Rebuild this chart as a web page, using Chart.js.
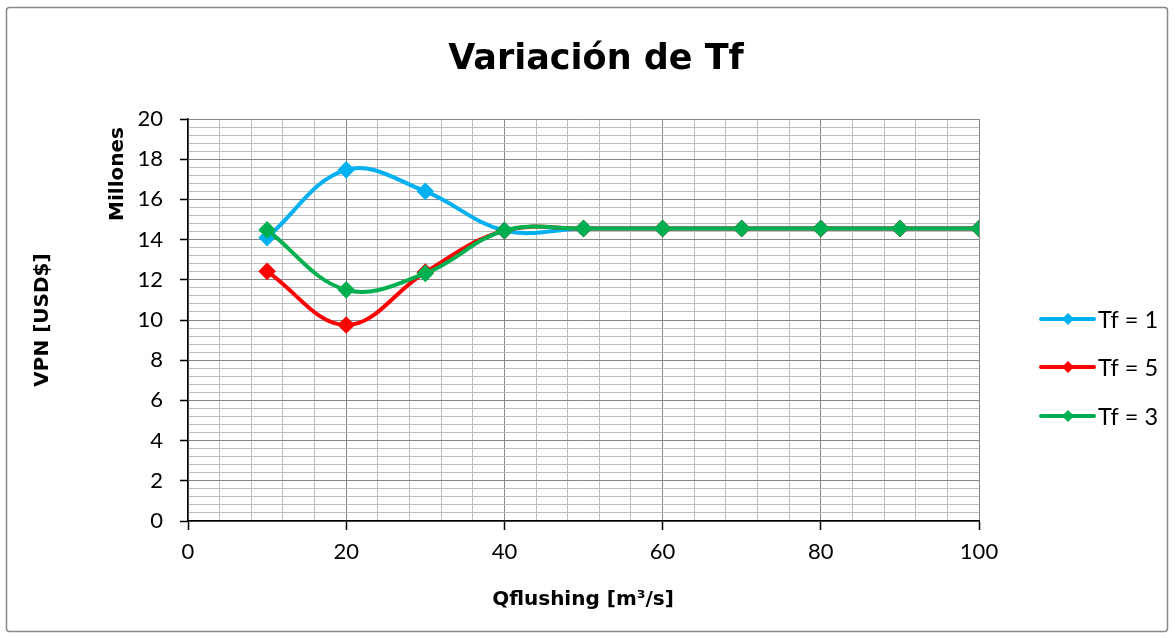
<!DOCTYPE html>
<html>
<head>
<meta charset="utf-8">
<script src="https://cdn.jsdelivr.net/npm/chart.js@4/dist/chart.umd.min.js"></script>
<style>
  body { margin: 0; background: #fff; }
  #wrap { width: 1175px; height: 638px; }
</style>
</head>
<body>
<div id="wrap"><canvas id="tfChart" width="1175" height="638"></canvas></div>
<script>
// caudal de flushing [m3/s]
const qFlushing = [10, 20, 30, 40, 50, 60, 70, 80, 90, 100];
// VPN en millones de USD$
const vpnTf1 = [14.1, 17.47, 16.4, 14.45, 14.55, 14.55, 14.55, 14.55, 14.55, 14.55];
const vpnTf5 = [12.42, 9.75, 12.38, 14.45, 14.55, 14.55, 14.55, 14.55, 14.55, 14.55];
const vpnTf3 = [14.48, 11.5, 12.32, 14.45, 14.55, 14.55, 14.55, 14.55, 14.55, 14.55];
const seriesLabels = ['Tf = 1', 'Tf = 5', 'Tf = 3'];
const seriesColors = ['#00b0f0', '#ff0000', '#00b050'];

const xTicks = [0, 20, 40, 60, 80, 100];
const yTicks = [0, 2, 4, 6, 8, 10, 12, 14, 16, 18, 20];

const boldFont = '"DejaVu Sans", sans-serif';
Chart.defaults.font.family = 'Lato, "Open Sans", sans-serif';
Chart.defaults.font.size = 22;
Chart.defaults.color = '#000';

function toPoints(ys) {
  return qFlushing.map((x, i) => ({ x: x, y: ys[i] }));
}

function isMajor(v, list) {
  return list.some(t => Math.abs(t - v) < 1e-6);
}

function makeSet(idx, ys, order) {
  return {
    label: seriesLabels[idx],
    data: toPoints(ys),
    borderColor: seriesColors[idx],
    backgroundColor: seriesColors[idx],
    borderWidth: 4,
    pointStyle: 'rectRot',
    pointRadius: 6,
    pointHoverRadius: 6,
    tension: 0.38,
    fill: false,
    order: order
  };
}

const decor = {
  id: 'decor',
  beforeDraw(chart) {
    const ctx = chart.ctx;
    ctx.save();
    ctx.fillStyle = '#fff';
    ctx.fillRect(0, 0, chart.width, chart.height);
    ctx.strokeStyle = '#898989';
    ctx.lineWidth = 1.5;
    ctx.beginPath();
    ctx.roundRect(6.5, 7.5, 1161, 624, 3);
    ctx.stroke();
    ctx.restore();
  },
  afterDraw(chart) {
    const ctx = chart.ctx;
    ctx.save();
    ctx.fillStyle = '#000';
    ctx.textAlign = 'center';
    ctx.textBaseline = 'alphabetic';
    ctx.font = 'bold 35px ' + boldFont;
    ctx.fillText('Variación de Tf', 596, 69);

    ctx.font = 'bold 20px ' + boldFont;
    ctx.fillText('Qflushing [m³/s]', 583, 605);

    ctx.textBaseline = 'middle';
    ctx.save();
    ctx.translate(43, 320);
    ctx.rotate(-Math.PI / 2);
    ctx.fillText('VPN [USD$]', 0, 0);
    ctx.restore();

    ctx.save();
    ctx.translate(118, 174);
    ctx.rotate(-Math.PI / 2);
    ctx.fillText('Millones', 0, 0);
    ctx.restore();

    // leyenda
    const rows = [319, 367, 416];
    ctx.font = '23.5px Lato, sans-serif';
    ctx.textAlign = 'left';
    seriesLabels.forEach((lab, i) => {
      const y = rows[i];
      ctx.strokeStyle = seriesColors[i];
      ctx.fillStyle = seriesColors[i];
      ctx.lineWidth = 4;
      ctx.lineCap = 'round';
      ctx.beginPath();
      ctx.moveTo(1041, y);
      ctx.lineTo(1094, y);
      ctx.stroke();
      ctx.beginPath();
      ctx.moveTo(1068, y - 6);
      ctx.lineTo(1074, y);
      ctx.lineTo(1068, y + 6);
      ctx.lineTo(1062, y);
      ctx.closePath();
      ctx.fill();
      ctx.fillStyle = '#000';
      ctx.fillText(lab, 1098, y + 1);
    });
    ctx.restore();
  }
};

const ctx = document.getElementById('tfChart').getContext('2d');
new Chart(ctx, {
  type: 'line',
  data: {
    datasets: [
      makeSet(0, vpnTf1, 2),
      makeSet(1, vpnTf5, 1),
      makeSet(2, vpnTf3, 0)
    ]
  },
  options: {
    responsive: false,
    animation: false,
    layout: { padding: { left: 0, top: 119, right: 196, bottom: 0 } },
    plugins: {
      legend: { display: false },
      title: { display: false },
      tooltip: { enabled: false }
    },
    scales: {
      x: {
        type: 'linear',
        min: 0,
        max: 100,
        afterFit: s => { s.height = 117; },
        border: { display: true, color: '#000', width: 1.5 },
        grid: {
          color: c => isMajor(c.tick.value, xTicks) ? '#868686' : '#bebebe',
          lineWidth: 1,
          tickLength: 9,
          tickColor: c => isMajor(c.tick.value, xTicks) ? '#000' : 'rgba(0,0,0,0)',
          tickWidth: 1.5
        },
        ticks: {
          stepSize: 4,
          autoSkip: false,
          maxRotation: 0,
          padding: 9,
          callback: v => isMajor(v, xTicks) ? String(Math.round(v)) : ''
        }
      },
      y: {
        min: 0,
        max: 20,
        afterFit: s => { s.width = 188; },
        border: { display: true, color: '#000', width: 1.5 },
        grid: {
          color: c => isMajor(c.tick.value, yTicks) ? '#868686' : '#bebebe',
          lineWidth: 1,
          tickLength: 8,
          tickColor: c => isMajor(c.tick.value, yTicks) ? '#000' : 'rgba(0,0,0,0)',
          tickWidth: 1.5
        },
        ticks: {
          stepSize: 0.4,
          autoSkip: false,
          padding: 17,
          callback: v => isMajor(v, yTicks) ? String(Math.round(v)) : ''
        }
      }
    }
  },
  plugins: [decor]
});
</script>
</body>
</html>
